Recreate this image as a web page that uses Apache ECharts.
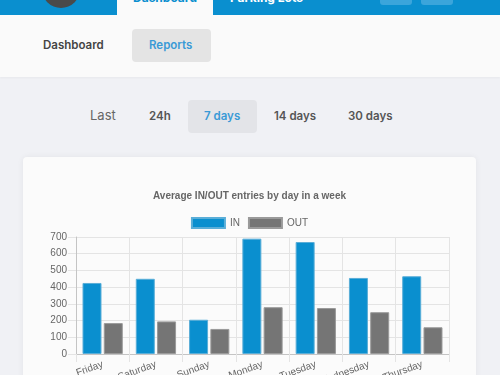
<!DOCTYPE html>
<html>
<head>
<meta charset="utf-8">
<script src="https://cdn.jsdelivr.net/npm/echarts@6/dist/echarts.min.js"></script>
<style>
  html, body { margin:0; padding:0; width:500px; height:375px; overflow:hidden; background:#f0f1f5; font-family: Inter, "Open Sans", sans-serif; }
  .hdr { position:absolute; left:0; top:0; width:500px; height:15px; background:#0a8fcf; overflow:hidden; }
  .logo { position:absolute; left:42px; top:-30px; width:38px; height:38px; border-radius:50%; background:#4a4a4a; }
  .logo2 { position:absolute; left:46px; top:-30px; width:30px; height:32px; border-radius:50%; background:#0a8fcf; }
  .tab { position:absolute; left:117px; top:0; width:96px; height:15px; background:#fafafa; }
  .tabt { position:absolute; left:133px; top:-9px; font-size:12px; font-weight:700; color:#0a8fcf; line-height:14px; }
  .plt { position:absolute; left:230px; top:-9px; font-size:12px; font-weight:700; color:#fff; line-height:14px; }
  .hb { position:absolute; top:-10px; width:32px; height:15px; border-radius:3px; background:#3ba5db; }
  .nav { position:absolute; left:0; top:15px; width:500px; height:62px; background:#fafafa; box-shadow:0 1px 2px rgba(0,0,0,0.04); }
  .navt { position:absolute; font-size:11.5px; font-weight:600; line-height:14px; }
  .rep { position:absolute; left:132px; top:29px; width:79px; height:33px; border-radius:4px; background:#e4e4e4; }
  .tb { position:absolute; font-size:11.5px; font-weight:600; color:#555; line-height:14px; top:109px; }
  .sel { position:absolute; left:188px; top:100px; width:69px; height:33px; border-radius:4px; background:#e3e4e8; }
  .card { position:absolute; left:23px; top:157px; width:453px; height:230px; background:#fbfbfb; border-radius:4px; box-shadow:0 0 6px rgba(0,0,0,0.06); }
  #chart { position:absolute; left:23px; top:157px; width:453px; height:218px; }
</style>
</head>
<body>
<div class="hdr">
  <div class="logo"></div><div class="logo2" style="left:40px;top:-34px;"></div>
  <div class="tab"></div>
  <div class="tabt">Dashboard</div>
  <div class="plt">Parking Lots</div>
  <div class="hb" style="left:380px;"></div>
  <div class="hb" style="left:421px;"></div>
</div>
<div class="nav"></div>
<div class="tab" style="top:0;height:16px;"></div>
<div class="tabt" style="top:-9px;">Dashboard</div>
<div class="navt" style="left:43px;top:38px;color:#444;">Dashboard</div>
<div class="rep"></div>
<div class="navt" style="left:149px;top:38px;color:#3a9ad6;">Reports</div>
<div class="sel"></div>
<div class="tb" style="left:90px;font-size:13px;font-weight:400;color:#666;top:108px;">Last</div>
<div class="tb" style="left:149px;">24h</div>
<div class="tb" style="left:204px;color:#3a9ad6;">7 days</div>
<div class="tb" style="left:274px;">14 days</div>
<div class="tb" style="left:348px;">30 days</div>
<div class="card"></div>
<div id="chart"></div>
<script>
const categories = ['Friday', 'Saturday', 'Sunday', 'Monday', 'Tuesday', 'Wednesday', 'Thursday'];
const inValues = [425, 450, 205, 690, 670, 455, 465];
const outValues = [185, 195, 150, 280, 275, 250, 160];
const yTicks = [0, 100, 200, 300, 400, 500, 600, 700];
const titleText = 'Average IN/OUT entries by day in a week';

const chart = echarts.init(document.getElementById('chart'), null, { renderer: 'canvas' });
const gridColor = '#e4e4e4';
chart.setOption({
  backgroundColor: 'transparent',
  animation: false,
  textStyle: { fontFamily: '"Liberation Sans", Arial, sans-serif' },
  title: {
    text: titleText, left: 'center', top: 34, padding: 0,
    textStyle: { fontSize: 10, fontWeight: 'bold', color: '#666', fontFamily: '"Liberation Sans", Arial, sans-serif' }
  },
  legend: {
    top: 60, left: 'center', itemWidth: 33, itemHeight: 10, itemGap: 8, padding: 0,
    icon: 'rect',
    textStyle: { fontSize: 10, color: '#666' },
    data: ['IN', 'OUT']
  },
  grid: { left: 53, right: 27, top: 80, bottom: 21, containLabel: false, outerBoundsMode: 'none' },
  xAxis: {
    type: 'category', data: categories, boundaryGap: true,
    axisLine: { show: true, lineStyle: { color: '#c4c4c4' } },
    axisTick: { show: true, length: 8, lineStyle: { color: gridColor } },
    splitLine: { show: true, lineStyle: { color: gridColor } },
    axisLabel: { rotate: 20, fontSize: 10, color: '#666', margin: 10 }
  },
  yAxis: {
    type: 'value', min: yTicks[0], max: yTicks[yTicks.length - 1], interval: 100,
    axisLine: { show: true, lineStyle: { color: '#c4c4c4' } },
    axisTick: { show: true, length: 8, lineStyle: { color: gridColor } },
    splitLine: { show: true, lineStyle: { color: gridColor } },
    axisLabel: { fontSize: 10, color: '#666', margin: 9 }
  },
  series: [
    { name: 'IN', type: 'bar', data: inValues, barWidth: 19, barGap: '12%',
      itemStyle: { color: '#0a8fcf', borderColor: '#5aaed8', borderWidth: 1 } },
    { name: 'OUT', type: 'bar', data: outValues, barWidth: 19,
      itemStyle: { color: '#757575', borderColor: '#9a9a9a', borderWidth: 1 } }
  ]
});
</script>
</body>
</html>
